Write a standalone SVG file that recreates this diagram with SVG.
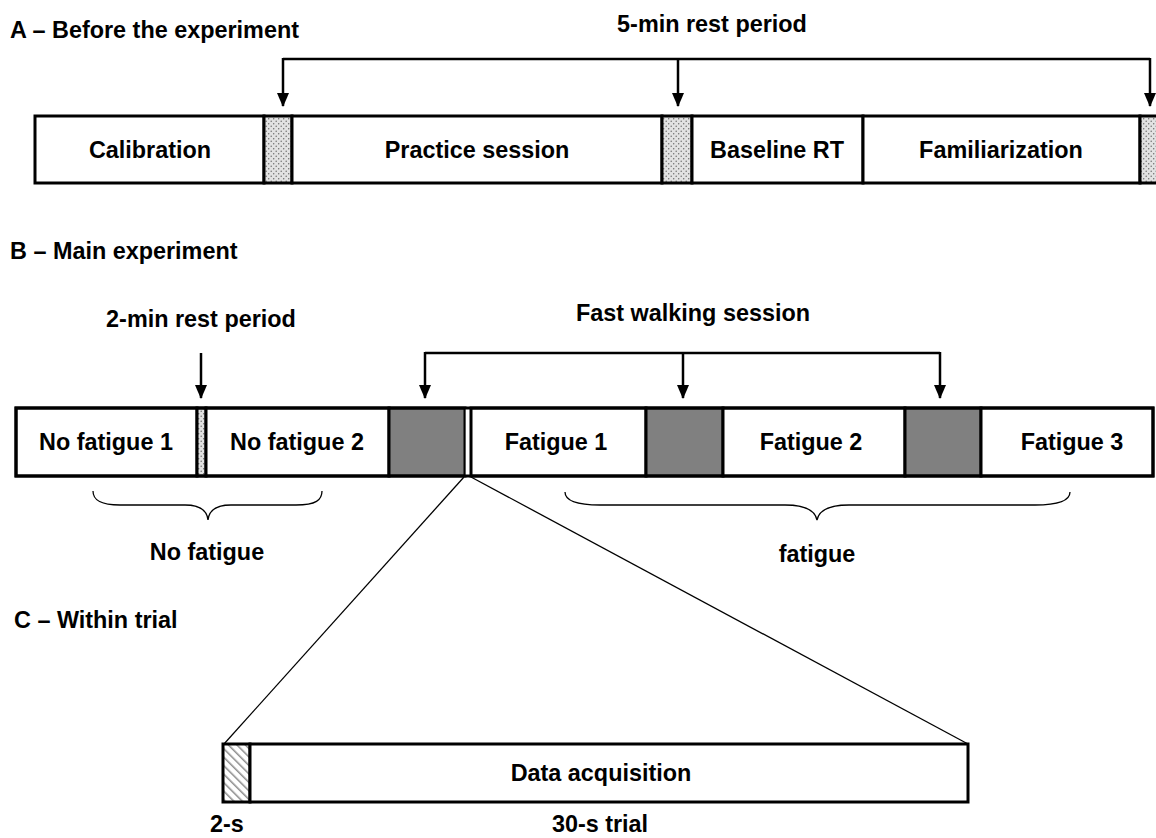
<svg xmlns="http://www.w3.org/2000/svg" width="1156" height="838" viewBox="0 0 1156 838">
<style>
text{font-family:"Liberation Sans",Arial,sans-serif;font-weight:bold;font-size:23.4px;fill:#000}
.c{text-anchor:middle}
.box{fill:#fff;stroke:#000;stroke-width:3}
.rest{fill:url(#stip);stroke:#000;stroke-width:3}
.walk{fill:#808080;stroke:#000;stroke-width:3}
.hat{fill:url(#hatch);stroke:#000;stroke-width:3}
.br{fill:none;stroke:#000;stroke-width:2.5}
.thin{fill:none;stroke:#000;stroke-width:1.3}
</style>
<defs>
<pattern id="stip" width="5" height="5" patternUnits="userSpaceOnUse">
<rect width="5" height="5" fill="#e2e2e2"/>
<circle cx="1.2" cy="1.2" r="0.75" fill="#6e6e6e"/>
<circle cx="3.7" cy="3.7" r="0.75" fill="#6e6e6e"/>
</pattern>
<pattern id="hatch" width="6" height="6" patternUnits="userSpaceOnUse" patternTransform="rotate(-45)">
<rect width="6" height="6" fill="#fff"/>
<line x1="0" y1="0" x2="0" y2="6" stroke="#8a8a8a" stroke-width="3"/>
</pattern>
<marker id="ah" markerUnits="userSpaceOnUse" markerWidth="14" markerHeight="12" refX="13" refY="6" orient="auto" viewBox="0 0 14 12">
<path d="M0,0 L14,6 L0,12 Z" fill="#000"/>
</marker>
</defs>

<text x="10" y="38">A – Before the experiment</text>
<text x="10" y="259">B – Main experiment</text>
<text x="14" y="628">C – Within trial</text>

<g id="calibration"><rect class="box" x="35" y="116" width="229" height="67"/><text class="c" x="150" y="158">Calibration</text></g>
<g id="rest-a1"><rect class="rest" x="264" y="116" width="28" height="67"/></g>
<g id="practice"><rect class="box" x="292" y="116" width="370" height="67"/><text class="c" x="477" y="158">Practice session</text></g>
<g id="rest-a2"><rect class="rest" x="662" y="116" width="30" height="67"/></g>
<g id="baseline"><rect class="box" x="692" y="116" width="171" height="67"/><text class="c" x="777" y="158">Baseline RT</text></g>
<g id="familiarization"><rect class="box" x="863" y="116" width="277" height="67"/><text class="c" x="1001" y="158">Familiarization</text></g>
<g id="rest-a3"><rect class="rest" x="1140" y="116" width="30" height="67"/></g>
<g id="label-5min"><text class="c" x="712" y="32">5-min rest period</text></g>

<g id="nofatigue1"><rect class="box" x="16" y="408" width="181" height="68"/><text class="c" x="106" y="450">No fatigue 1</text></g>
<g id="rest-b"><rect class="rest" x="197" y="408" width="9" height="68"/></g>
<g id="nofatigue2"><rect class="box" x="206" y="408" width="183" height="68"/><text class="c" x="297" y="450">No fatigue 2</text></g>
<g id="walk1"><rect class="walk" x="389" y="408" width="76" height="68"/></g>
<g id="trial"><rect x="465" y="408" width="6" height="68" fill="#fff" stroke="#000" stroke-width="1.3"/></g>
<g id="fatigue1"><rect class="box" x="471" y="408" width="175" height="68"/><text class="c" x="556" y="450">Fatigue 1</text></g>
<g id="walk2"><rect class="walk" x="646" y="408" width="77" height="68"/></g>
<g id="fatigue2"><rect class="box" x="723" y="408" width="182" height="68"/><text class="c" x="811" y="450">Fatigue 2</text></g>
<g id="walk3"><rect class="walk" x="905" y="408" width="76" height="68"/></g>
<g id="fatigue3"><rect class="box" x="981" y="408" width="172" height="68"/><text class="c" x="1072" y="450">Fatigue 3</text></g>
<g id="row-b-outline"><rect x="16" y="408" width="1137" height="68" fill="none" stroke="#000" stroke-width="3"/></g>
<g id="label-2min"><text class="c" x="201" y="327">2-min rest period</text></g>
<g id="label-walk"><text class="c" x="693" y="321">Fast walking session</text></g>
<g id="label-nofatigue"><text class="c" x="207" y="560">No fatigue</text></g>
<g id="label-fatigue"><text class="c" x="817" y="562">fatigue</text></g>

<g id="warmup"><rect class="hat" x="223" y="744" width="27" height="58"/><text x="210" y="832">2-s</text></g>
<g id="acquisition"><rect class="box" x="250" y="744" width="718" height="58"/><text class="c" x="601" y="781">Data acquisition</text></g>
<g id="label-30s"><text class="c" x="600" y="832">30-s trial</text></g>

<g id="connectors">
<path class="br" d="M283,59 H1150"/>
<path class="br" d="M283,58 V106" marker-end="url(#ah)"/>
<path class="br" d="M678,59 V106" marker-end="url(#ah)"/>
<path class="br" d="M1150,58 V106" marker-end="url(#ah)"/>
<path class="br" d="M201,353 V398" marker-end="url(#ah)"/>
<path class="br" d="M425,353 H940"/>
<path class="br" d="M425,352 V398" marker-end="url(#ah)"/>
<path class="br" d="M683,353 V398" marker-end="url(#ah)"/>
<path class="br" d="M940,352 V398" marker-end="url(#ah)"/>
<path class="thin" d="M93,491 C93,500 100,505 120,505 L185,505 C200,505 207,510 208,520 C209,510 216,505 231,505 L296,505 C316,505 322,500 322,491"/>
<path class="thin" d="M565,492 C565,500 575,505 600,505 L785,505 C805,505 815,510 817,520 C819,510 829,505 849,505 L1035,505 C1060,505 1070,500 1070,492"/>
<path class="thin" d="M464,477 L224,744"/>
<path class="thin" d="M471,477 L968,744"/>
</g>
</svg>
